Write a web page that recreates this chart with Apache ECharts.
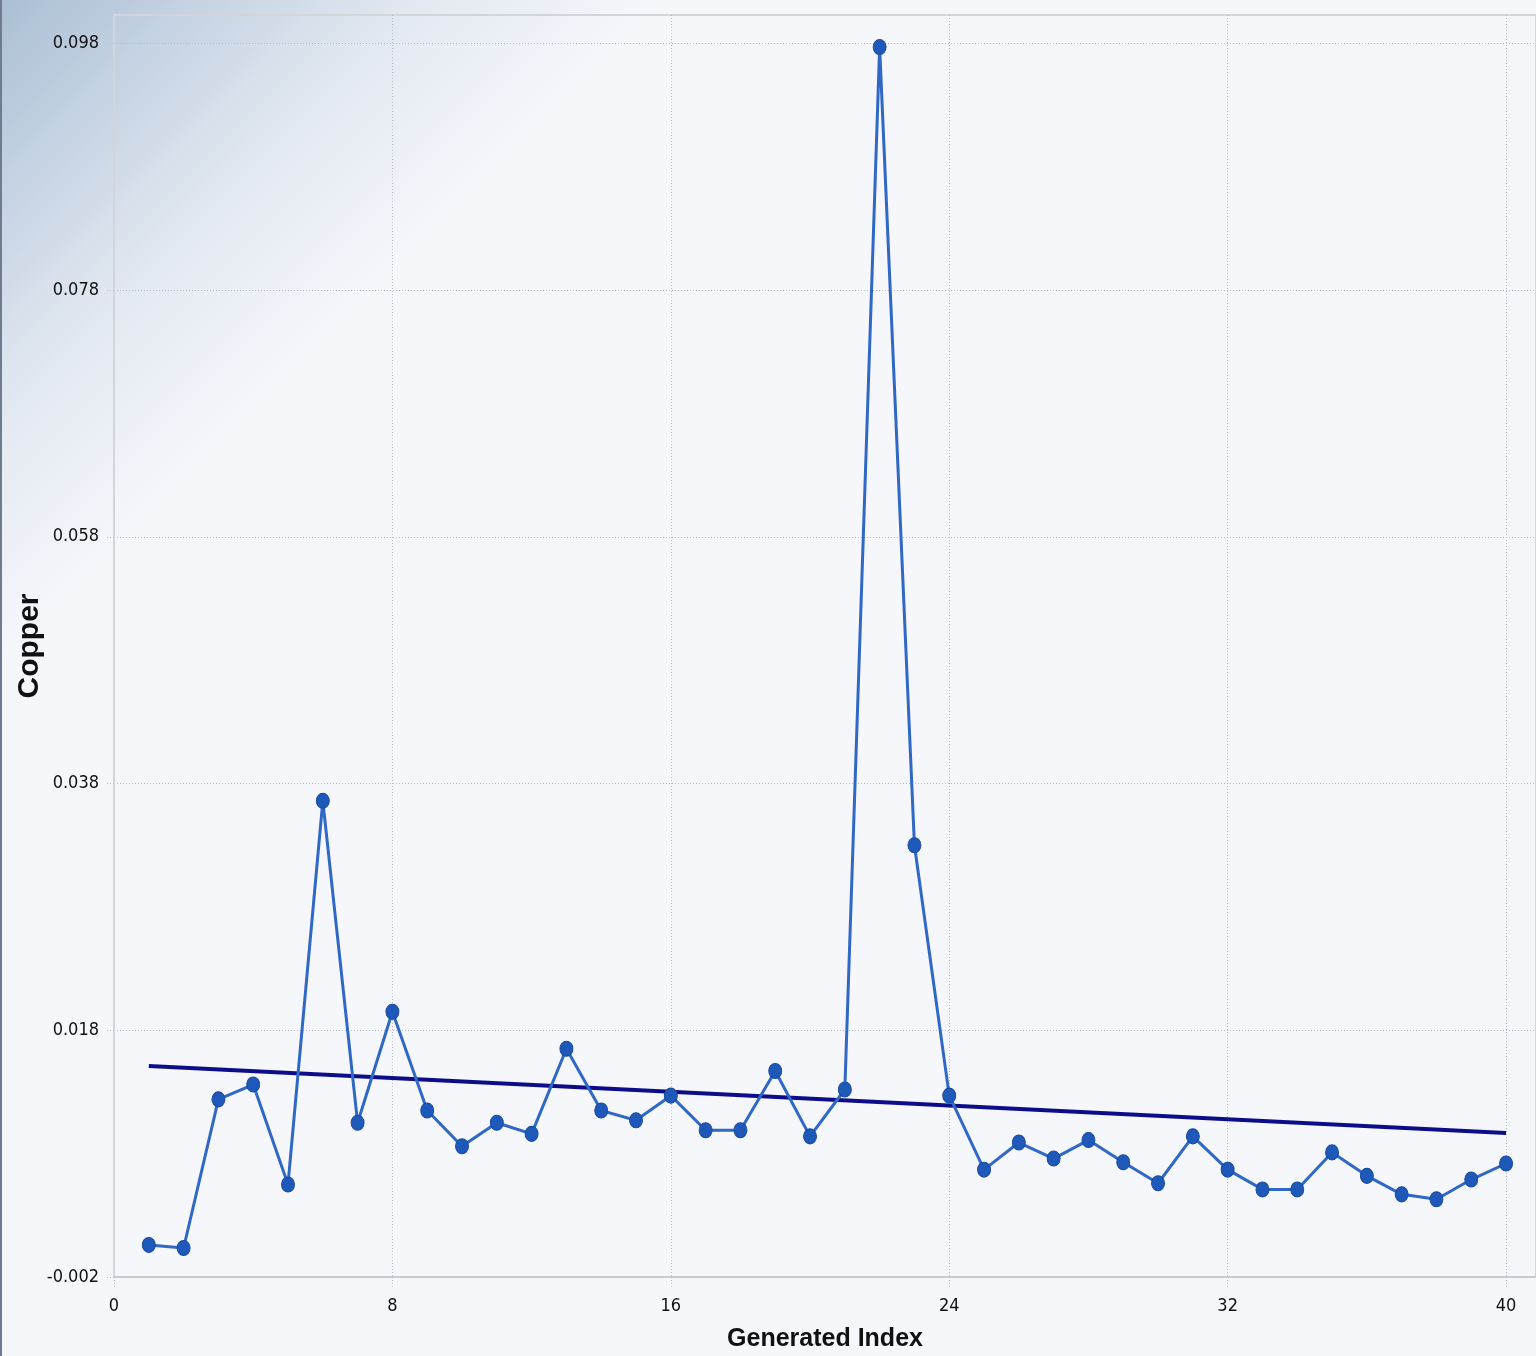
<!DOCTYPE html>
<html>
<head>
<meta charset="utf-8">
<title>Copper by Generated Index</title>
<script src="https://cdn.jsdelivr.net/npm/echarts@6/dist/echarts.min.js"></script>
<style>
  html, body { margin: 0; padding: 0; }
  body {
    width: 1536px; height: 1356px; overflow: hidden;
    background: linear-gradient(135deg, #aabfd5 0%, #cad6e5 8%, #e4eaf2 15%, #f5f7fb 23%, #f5f7fb 100%);
  }
  #chart {
    width: 1534px; height: 1356px;
    border-left: 2px solid #6f7c8e;
  }
</style>
</head>
<body>
<div id="chart"></div>
<script>
// Generated index (1..40) and copper readings
const indexValues = [1, 2, 3, 4, 5, 6, 7, 8, 9, 10,
  11, 12, 13, 14, 15, 16, 17, 18, 19, 20,
  21, 22, 23, 24, 25, 26, 27, 28, 29, 30,
  31, 32, 33, 34, 35, 36, 37, 38, 39, 40];
const copperValues = [0.0006, 0.00035, 0.0124, 0.0136, 0.0055, 0.0366, 0.0105, 0.0195, 0.0115, 0.0086,
  0.0105, 0.0096, 0.0165, 0.0115, 0.0107, 0.0127, 0.0099, 0.0099, 0.0147, 0.0094,
  0.0132, 0.0977, 0.0330, 0.0127, 0.0067, 0.0089, 0.0076, 0.0091, 0.0073, 0.0056,
  0.0094, 0.0067, 0.0051, 0.0051, 0.0081, 0.0062, 0.0047, 0.0043, 0.0059, 0.0072];

// Linear trend line endpoints (index, copper)
const trendIndex = [1, 40];
const trendValues = [0.0151, 0.00967];

// Axis tick labels
const xTicks = [0, 8, 16, 24, 32, 40];
const yTicks = [-0.002, 0.018, 0.038, 0.058, 0.078, 0.098];

const chart = echarts.init(document.getElementById('chart'), null, { renderer: 'canvas' });

const gridLine = { color: '#b9bdc4', width: 1, type: [1, 2] };
const tickFont = {
  fontFamily: '"Liberation Sans Narrow", "DejaVu Sans Condensed", "Liberation Sans", Arial, sans-serif',
  fontSize: 18,
  color: '#111111'
};

chart.setOption({
  backgroundColor: 'transparent',
  animation: false,
  grid: {
    left: 112, top: 15, right: 0, bottom: 79,
    containLabel: false,
    outerBoundsMode: 'none',
    show: true,
    backgroundColor: 'transparent',
    borderColor: '#d2d5da',
    borderWidth: 2
  },
  xAxis: {
    type: 'value',
    min: 0,
    max: 40.86,
    name: 'Generated Index',
    nameLocation: 'middle',
    nameGap: 50,
    nameMoveOverlap: false,
    nameTextStyle: {
      fontFamily: '"Liberation Sans Narrow", "Liberation Sans", Arial, sans-serif',
      fontWeight: 'bold',
      fontSize: 25,
      color: '#111111'
    },
    axisLine: { show: true, onZero: false, lineStyle: { color: '#c8cbd0', width: 2 } },
    axisTick: { show: true, length: 10, customValues: xTicks, lineStyle: gridLine },
    axisLabel: Object.assign({ margin: 20, customValues: xTicks, formatter: v => String(v) }, tickFont),
    splitLine: { show: true, lineStyle: gridLine }
  },
  yAxis: {
    type: 'value',
    min: -0.002,
    max: 0.1003,
    name: 'Copper',
    nameLocation: 'middle',
    nameGap: 69,
    nameMoveOverlap: false,
    nameTextStyle: {
      fontFamily: '"Liberation Sans", Arial, sans-serif',
      fontWeight: 'bold',
      fontSize: 30,
      color: '#111111'
    },
    axisLine: { show: true, onZero: false, lineStyle: { color: '#d2d5da', width: 2 } },
    axisTick: { show: true, length: 9, customValues: yTicks, lineStyle: gridLine },
    axisLabel: Object.assign({ margin: 15, customValues: yTicks, formatter: v => v.toFixed(3) }, tickFont),
    splitLine: { show: true, lineStyle: gridLine }
  },
  series: [
    {
      name: 'Trend',
      type: 'line',
      data: trendIndex.map((x, i) => [x, trendValues[i]]),
      showSymbol: false,
      symbol: 'none',
      lineStyle: { color: '#0d0d8a', width: 4 },
      z: 2
    },
    {
      name: 'Copper',
      type: 'line',
      data: indexValues.map((x, i) => [x, copperValues[i]]),
      symbol: 'circle',
      symbolSize: [13, 15],
      itemStyle: { color: '#1e59ba', borderColor: '#184b9f', borderWidth: 1 },
      lineStyle: { color: '#2f68c6', width: 3 },
      z: 3
    }
  ]
});
</script>
</body>
</html>
